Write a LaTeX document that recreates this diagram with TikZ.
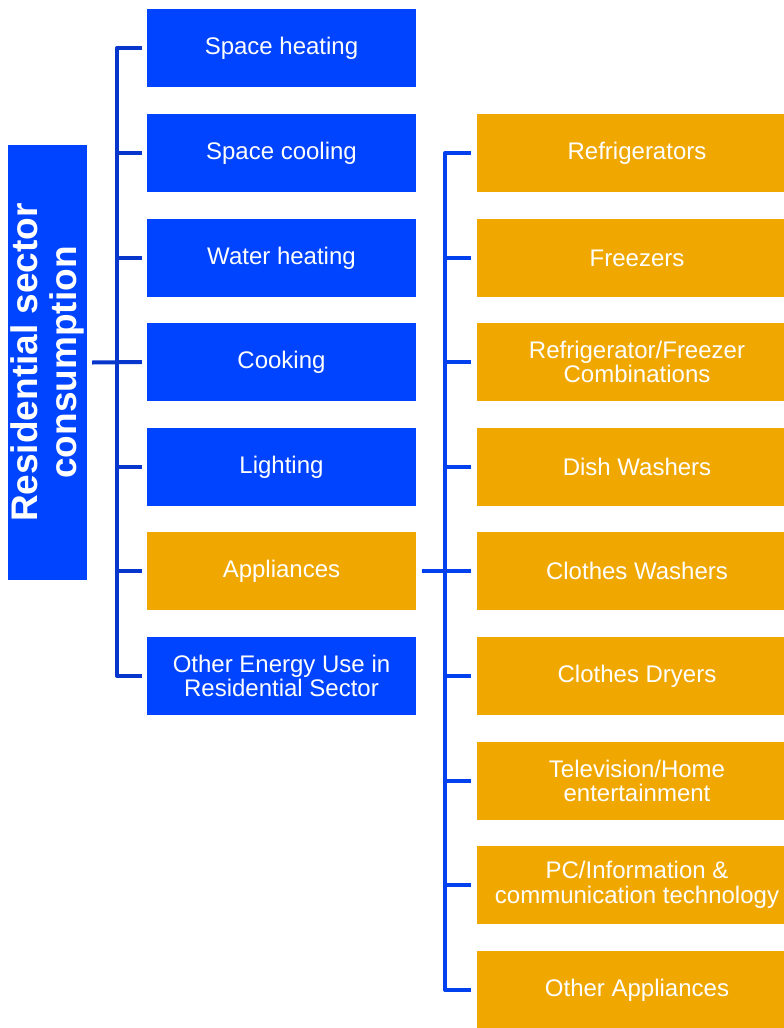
\documentclass[tikz,border=0pt]{standalone}
\usepackage{fontspec}
\setmainfont{Liberation Sans}
\definecolor{boxblue}{HTML}{0044FF}
\definecolor{boxorange}{HTML}{F0A800}
\definecolor{lineL}{HTML}{0636CC}
\definecolor{lineR}{HTML}{0040EE}
\begin{document}
\begin{tikzpicture}[x=1pt,y=-1pt,
  base/.style={inner sep=0pt, text=white, align=center,
    font=\fontsize{24}{24.5}\selectfont},
  bluebox/.style={base, fill=boxblue, minimum width=269pt, minimum height=78pt},
  orangeL/.style={base, fill=boxorange, minimum width=269pt, minimum height=78pt},
  orangebox/.style={base, fill=boxorange, minimum width=320pt, minimum height=78pt},
  busL/.style={draw=lineL, line width=4pt, line join=round},
  busR/.style={draw=lineR, line width=4pt, line join=round}]
\useasboundingbox (0,0) rectangle (784,1028);
\clip (0,0) rectangle (784,1028);

% main box
\node[base, fill=boxblue, rotate=90, minimum width=435pt, minimum height=79pt,
  font=\bfseries\fontsize{37}{39}\selectfont] (main) at (47.5,362.5)
  {Residential sector\\consumption};

% left column
\node[bluebox] (sh) at (281.5,48) {Space heating};
\node[bluebox] (sc) at (281.5,153) {Space cooling};
\node[bluebox] (wh) at (281.5,258) {Water heating};
\node[bluebox] (ck) at (281.5,362) {Cooking};
\node[bluebox] (lt) at (281.5,467) {Lighting};
\node[orangeL] (ap) at (281.5,571) {Appliances};
\node[bluebox] (ot) at (281.5,676) {Other Energy Use in\\Residential Sector};

% right column (boxes run past the right edge)
\node[orangebox] (r1) at (637,153) {Refrigerators};
\node[orangebox] (r2) at (637,258) {Freezers};
\node[orangebox] (r3) at (637,362) {Refrigerator/Freezer\\Combinations};
\node[orangebox] (r4) at (637,467) {Dish Washers};
\node[orangebox] (r5) at (637,571) {Clothes Washers};
\node[orangebox] (r6) at (637,676) {Clothes Dryers};
\node[orangebox] (r7) at (637,781) {Television/Home\\entertainment};
\node[orangebox] (r8) at (637,885) {PC/Information \&\\communication technology};
\node[orangebox] (r9) at (637,990) {Other Appliances};

% bus positions
\coordinate (bl) at (117,0);
\coordinate (br) at (445,0);

% left connectors
\draw[busL] ([xshift=5pt]main.south) -- ([xshift=-5pt]ck.west);
\draw[busL] ([xshift=-5pt]sh.west) -| (bl |- ot.west) -- ([xshift=-5pt]ot.west);
\foreach \n in {sc,wh,lt,ap}
  \draw[busL] (bl |- \n.west) -- ([xshift=-5pt]\n.west);

% right connectors
\draw[busR] ([xshift=6pt]ap.east) -- ([xshift=-6pt]r5.west);
\draw[busR] ([xshift=-6pt]r1.west) -| (br |- r9.west) -- ([xshift=-6pt]r9.west);
\foreach \n in {r2,r3,r4,r6,r7,r8}
  \draw[busR] (br |- \n.west) -- ([xshift=-6pt]\n.west);
\end{tikzpicture}
\end{document}
